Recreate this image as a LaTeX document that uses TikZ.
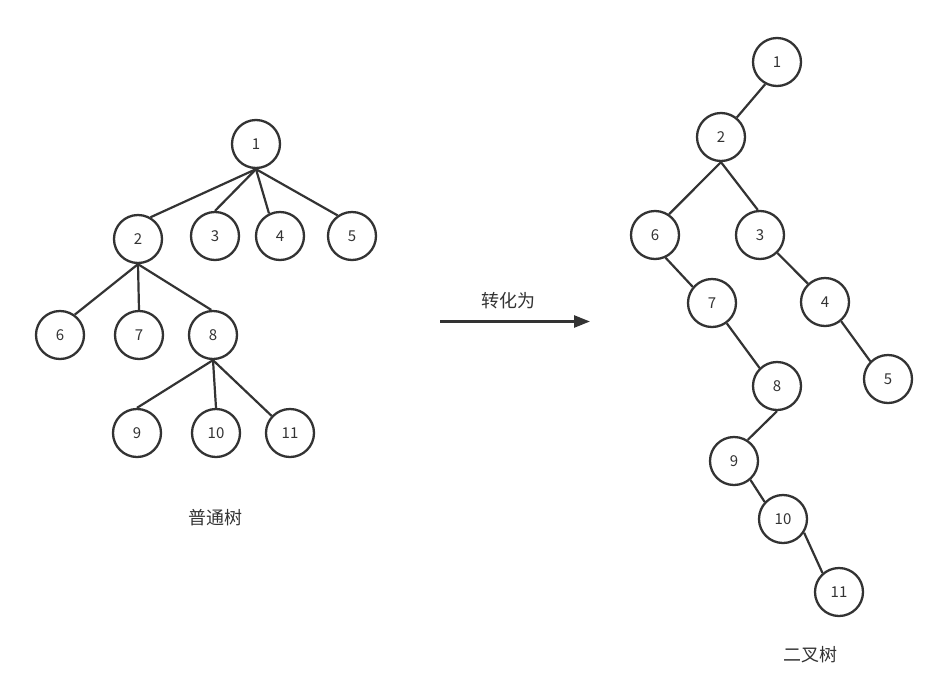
\documentclass[tikz,border=0pt]{standalone}
\usepackage{fontspec}
\setmainfont{Noto Sans CJK SC}
\usepackage{tikz}
\usetikzlibrary{arrows.meta}
\definecolor{ink}{HTML}{333333}

\begin{document}
\begin{tikzpicture}[x=1pt, y=-1pt,
		nd/.style={circle, draw=ink, line width=2.3pt, minimum size=48pt, inner sep=0pt, text=ink, font=\fontsize{15}{18}\selectfont},
		ed/.style={draw=ink, line width=2.2pt},
		lbl/.style={text=ink, font=\fontsize{18}{22}\selectfont}]
	\useasboundingbox (0,0) rectangle (951,678);
	\node[nd] (l1) at (256,144) {1};
	\node[nd] (l2) at (138,239) {2}; \node[nd] (l3) at (215,236) {3};
	\node[nd] (l4) at (280,236) {4}; \node[nd] (l5) at (352,236) {5};
	\node[nd] (l6) at (60,335) {6}; \node[nd] (l7) at (139,335) {7};
	\node[nd] (l8) at (213,335) {8};
	\node[nd] (l9) at (137,433) {9}; \node[nd] (l10) at (216,433) {10};
	\node[nd] (l11) at (290,433) {11};
	\draw[ed] (l1.south) -- (l2.60); \draw[ed] (l1.south) -- (l3.north);
	\draw[ed] (l1.south) -- (l4.116); \draw[ed] (l1.south) -- (l5.125);
	\draw[ed] (l2.south) -- (l6.54); \draw[ed] (l2.south) -- (l7.north);
	\draw[ed] (l2.south) -- (l8.94);
	\draw[ed] (l8.south) -- (l9.north); \draw[ed] (l8.south) -- (l10.north);
	\draw[ed] (l8.south) -- (l11.137);
	\node[lbl] (cap1) at (215,518) {普通树};
	\coordinate (from) at (440,321.5); \coordinate (to) at (590,321.5);
	\draw[ed, line width=2.6pt, -{Triangle[length=16pt, width=12pt]}] (from) -- (to);
	\node[lbl] (conv) at (508,301) {转化为};
	\node[nd] (r1) at (777,62) {1};
	\node[nd] (r2) at (721,137) {2};
	\node[nd] (r6) at (655,235) {6}; \node[nd] (r3) at (760,235) {3};
	\node[nd] (r7) at (712,303) {7}; \node[nd] (r4) at (825,302) {4};
	\node[nd] (r8) at (777,386) {8}; \node[nd] (r5) at (888,379) {5};
	\node[nd] (r9) at (734,461) {9};
	\node[nd] (r10) at (783,519) {10};
	\node[nd] (r11) at (839,592) {11};
	\draw[ed] (r1.242) -- (r2.51);
	\draw[ed] (r2.south) -- (r6.56); \draw[ed] (r2.south) -- (r3.95);
	\draw[ed] (r6.-65) -- (r7.140); \draw[ed] (r3.-46) -- (r4.133);
	\draw[ed] (r7.-54) -- (r8.134); \draw[ed] (r4.-50) -- (r5.135);
	\draw[ed] (r8.south) -- (r9.57); \draw[ed] (r9.-49) -- (r10.137);
	\draw[ed] (r10.-33) -- (r11.131);
	\node[lbl] (cap2) at (810,655) {二叉树};
\end{tikzpicture}
\end{document}
